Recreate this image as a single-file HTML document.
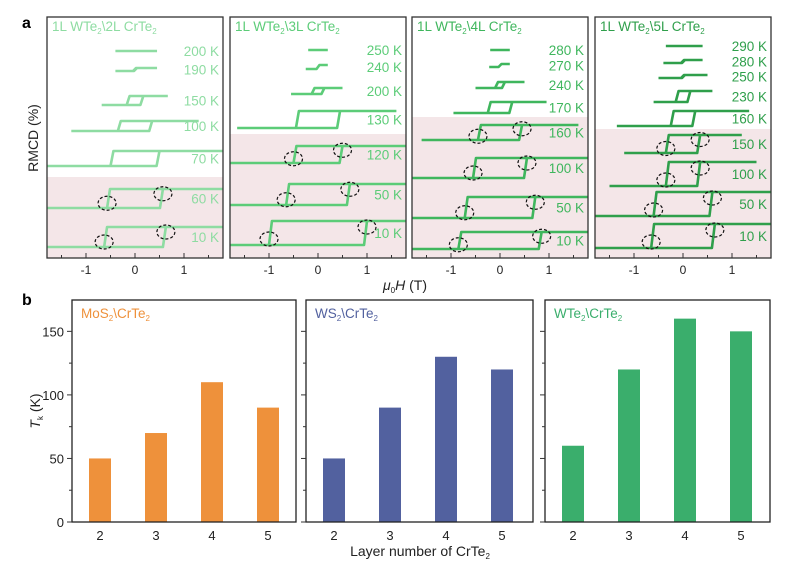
<!DOCTYPE html>
<html><head><meta charset="utf-8"><style>
html,body{margin:0;padding:0;background:#fff;}
svg{display:block;font-family:"Liberation Sans",Arial,sans-serif;}
</style></head><body>
<svg id="fig" width="807" height="567" viewBox="0 0 807 567">
<g id="pa"></g>
<g id="pb"></g>
</svg>
<script>
// ---------- Panel a data ----------
const aTitles = ["2L","3L","4L","5L"];
const aColors = ["#8edca2","#5ccc78","#3fb65d","#2f9f4b"];
const aShade = [81,124,141,129]; // RMCD value (a.u.) where shaded region begins
// loops: [label, topRMCD, bottomRMCD, hc(T), Hmin, Hmax, circles]
const aLoops = [
 [["200 K",207,207,0,-0.4,0.45,0],["190 K",190,187,0.02,-0.4,0.45,0],["150 K",162,153,0.17,-0.68,0.67,0],
  ["100 K",137,127,0.35,-1.3,1.3,0],["70 K",107,92,0.5,-1.8,1.8,0],["60 K",69,50,0.57,-1.8,1.8,1],["10 K",31,11,0.63,-1.8,1.8,1]],
 [["250 K",208,208,0.03,-0.2,0.2,0],["240 K",193,189,0.03,-0.25,0.2,0],["200 K",170,164,0.13,-0.55,0.5,0],
  ["130 K",147,130,0.45,-1.65,1.6,0],["120 K",112,95,0.5,-1.8,1.8,1],["50 K",74,53,0.65,-1.8,1.8,1],["10 K",37,13,1.0,-1.8,1.8,1]],
 [["280 K",208,208,0.02,-0.2,0.2,0],["270 K",194,191,0.03,-0.22,0.2,0],["240 K",176,170,0.1,-0.5,0.5,0],
  ["170 K",156,145,0.25,-0.95,0.95,0],["160 K",133,118,0.45,-1.6,1.6,1],["100 K",100,80,0.55,-1.8,1.8,1],["50 K",61,40,0.72,-1.8,1.8,1],["10 K",26,9,0.85,-1.8,1.8,1]],
 [["290 K",212,212,0,-0.35,0.4,0],["280 K",198,195,0.02,-0.4,0.4,0],["250 K",183,180,0.04,-0.5,0.5,0],
  ["230 K",167,156,0.15,-0.6,0.6,0],["160 K",147,132,0.25,-1.35,1.35,0],["150 K",123,105,0.35,-1.2,1.2,1],
  ["100 K",96,72,0.35,-1.5,1.5,1],["50 K",66,42,0.6,-1.8,1.8,1],["10 K",34,10,0.65,-1.8,1.8,1]]
];
const aTicks = [-1,0,1];
// ---------- Panel b data ----------
const bTitles = [["MoS","\\CrTe"],["WS","\\CrTe"],["WTe","\\CrTe"]];
const bColors = ["#ee913b","#52619f","#3aae6c"];
const bLayers = [2,3,4,5];
const bValues = [[50,70,110,90],[50,90,130,120],[60,120,160,150]];
const bTicks = [0,50,100,150];

const NS="http://www.w3.org/2000/svg";
function mk(tag,attrs,parent){const e=document.createElementNS(NS,tag);for(const k in attrs)e.setAttribute(k,attrs[k]);parent.appendChild(e);return e;}
const pa=document.getElementById('pa'), pb=document.getElementById('pb');

const aX0=[47,230,412,595], aW=176, aTop=17, aBot=258;
aTitles.forEach((t,p)=>{
  const x0=aX0[p];
  const xs=h=>x0+88+h*49;
  const ys=v=>aBot-v;
  const g=mk('g',{},pa);
  
  
  const sh=mk('rect',{x:x0,y:ys(aShade[p]),width:aW,height:aBot-ys(aShade[p]),fill:'#f4e6e8'},g);
  
  
  const col=aColors[p];
  const tt=mk('text',{x:x0+5,y:aTop+14,fill:col,'font-size':13.5},g);
  
  
  tt.innerHTML='1L WTe<tspan font-size="8" dy="3">2</tspan><tspan dy="-3">\\'+t+' CrTe</tspan><tspan font-size="8" dy="3">2</tspan>';
  aLoops[p].forEach(L=>{
    const [lab,top,bot,hc,hmin,hmax,circ]=L;
    const s=0.06;
    const d=`M${xs(hmin)},${ys(bot)} L${xs(hc-s)},${ys(bot)} L${xs(hc)},${ys(top)} L${xs(hmax)},${ys(top)} M${xs(hmax)},${ys(top)} L${xs(-hc+s)},${ys(top)} L${xs(-hc)},${ys(bot)} L${xs(hmin)},${ys(bot)}`;
    const lp=mk('path',{d:d,fill:'none',stroke:col,'stroke-width':2.6,'stroke-linejoin':'round'},g);
    
    
    if(circ){
      [[-hc,bot],[hc,top]].forEach(([h,v])=>{
        const c=mk('ellipse',{cx:xs(h),cy:(ys(v)+ys((top+bot)/2))/2,rx:9,ry:7,fill:'none',stroke:'#111','stroke-width':1.2,'stroke-dasharray':'3,2'},g);
        
        
      });
    }
    const lt=mk('text',{x:x0+aW-4,y:ys((top+bot)/2)+5,fill:col,'font-size':13.5,'text-anchor':'end'},g);
    
    
    lt.textContent=lab;
  });
  const fr=mk('rect',{x:x0,y:aTop,width:aW,height:aBot-aTop,fill:'none',stroke:'#333','stroke-width':1.3},g);
  
  
  [-1.5,-0.5,0.5,1.5].forEach(h=>mk('line',{x1:xs(h),x2:xs(h),y1:aBot,y2:aBot-3,stroke:'#333'},g));
  aTicks.forEach(h=>{
    mk('line',{x1:xs(h),x2:xs(h),y1:aBot,y2:aBot-5,stroke:'#333'},g);
    const tl=mk('text',{x:xs(h),y:aBot+16,'font-size':12,'text-anchor':'middle',fill:'#222'},g);
    
    
    tl.textContent=h;
  });
});
let e=mk('text',{x:22,y:28,'font-size':16,'font-weight':'bold'},pa);
e.textContent='a';
e=mk('text',{x:38,y:138,'font-size':14,'text-anchor':'middle',transform:'rotate(-90 38 138)',fill:'#222'},pa);
e.textContent='RMCD (%)';
e=mk('text',{x:383,y:290,'font-size':14,fill:'#222'},pa);

e.innerHTML='<tspan font-style="italic">μ</tspan><tspan font-size="8" dy="3">0</tspan><tspan dy="-3" font-style="italic">H</tspan> (T)';

const bX0=[72,306,545], bX1=[296,533,770], bTop=300, bBot=522, kY=1.271;
bTitles.forEach((t,p)=>{
  const x0=bX0[p], x1=bX1[p];
  const xs=l=>x0+28+(l-2)*56;
  const ys=v=>bBot-v*kY;
  const g=mk('g',{},pb);
  
  
  bLayers.forEach((l,i)=>{
    const v=bValues[p][i];
    const r=mk('rect',{x:xs(l)-11,y:ys(v),width:22,height:bBot-ys(v),fill:bColors[p]},g);
    
    
    const tl=mk('text',{x:xs(l),y:bBot+18,'font-size':13,'text-anchor':'middle',fill:'#222'},g);
    
    
    tl.textContent=l;
  });
  const fr=mk('rect',{x:x0,y:bTop,width:x1-x0,height:bBot-bTop,fill:'none',stroke:'#222','stroke-width':1.3},g);
  
  
  [25,75,125].forEach(v=>mk('line',{x1:x0,x2:x0-3,y1:ys(v),y2:ys(v),stroke:'#333'},g));
  bTicks.forEach(v=>{
    mk('line',{x1:x0,x2:x0-5,y1:ys(v),y2:ys(v),stroke:'#333'},g);
    if(p===0){
      const tl=mk('text',{x:x0-8,y:ys(v)+5,'font-size':13,'text-anchor':'end',fill:'#222'},g);
      
      
      tl.textContent=v;
    }
  });
  const tt=mk('text',{x:x0+9,y:bTop+18,'font-size':13.5,fill:bColors[p]},g);
  
  
  tt.innerHTML=t[0]+'<tspan font-size="8" dy="3">2</tspan><tspan dy="-3">'+t[1]+'</tspan><tspan font-size="8" dy="3">2</tspan>';
});
e=mk('text',{x:40,y:411,'font-size':14,'text-anchor':'middle',transform:'rotate(-90 40 411)',fill:'#222'},pb);

e.innerHTML='<tspan font-style="italic">T</tspan><tspan font-size="8" dy="3">k</tspan><tspan dy="-3"> (K)</tspan>';
e=mk('text',{x:22,y:305,'font-size':16,'font-weight':'bold'},pb);
e.textContent='b';
e=mk('text',{x:420,y:556,'font-size':14,'text-anchor':'middle',fill:'#222'},pb);

e.innerHTML='Layer number of CrTe<tspan font-size="8" dy="3">2</tspan>';
</script>
</body></html>
